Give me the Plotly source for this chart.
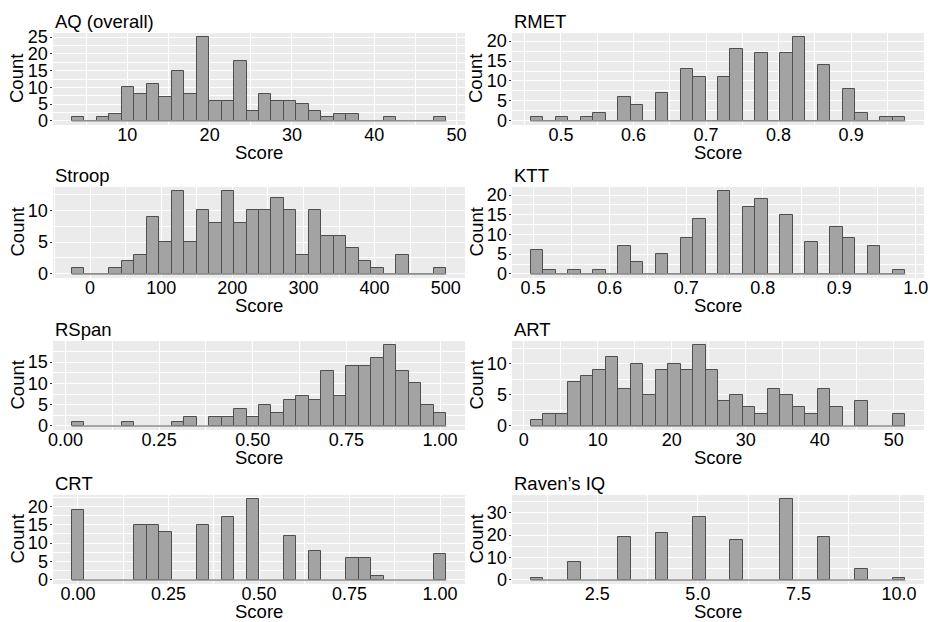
import numpy as np
import plotly.graph_objects as go

# ---- histogram data: 30 bins per measure, first/last bin centres ----
panel_titles = ["AQ (overall)", "RMET", "Stroop", "KTT",
                "RSpan", "ART", "CRT", "Raven’s IQ"]

aq_counts = [1, 0, 1, 2, 10, 8, 11, 7, 15, 8, 25, 6, 6, 18, 3,
             8, 6, 6, 5, 3, 1, 2, 2, 0, 0, 1, 0, 0, 0, 1]
aq_range = (4.0, 48.0)

rmet_counts = [1, 0, 1, 0, 1, 2, 0, 6, 4, 0, 7, 0, 13, 11, 0,
               11, 18, 0, 17, 0, 17, 21, 0, 14, 0, 8, 2, 0, 1, 1]
rmet_range = (0.467, 0.966)

stroop_counts = [1, 0, 0, 1, 2, 3, 9, 5, 13, 5, 10, 8, 13, 8, 10,
                 10, 12, 10, 3, 10, 6, 6, 4, 2, 1, 0, 3, 0, 0, 1]
stroop_range = (-17.0, 492.0)

ktt_counts = [6, 1, 0, 1, 0, 1, 0, 7, 3, 0, 5, 0, 9, 14, 0,
              21, 0, 17, 19, 0, 15, 0, 8, 0, 12, 9, 0, 7, 0, 1]
ktt_range = (0.505, 0.978)

rspan_counts = [1, 0, 0, 0, 1, 0, 0, 0, 1, 2, 0, 2, 2, 4, 2,
                5, 3, 6, 7, 6, 13, 7, 14, 14, 16, 19, 13, 10, 5, 3]
rspan_range = (1 / 30, 1.0)

art_counts = [1, 2, 2, 7, 8, 9, 11, 6, 10, 5, 9, 10, 9, 13, 9,
              4, 5, 3, 2, 6, 5, 3, 2, 6, 3, 0, 4, 0, 0, 2]
art_range = (1.8, 50.7)

crt_counts = [19, 0, 0, 0, 0, 15, 15, 13, 0, 0, 15, 0, 17, 0, 22,
              0, 0, 12, 0, 8, 0, 0, 6, 6, 1, 0, 0, 0, 0, 7]
crt_range = (0.0, 1.0)

raven_counts = [1, 0, 0, 8, 0, 0, 0, 19, 0, 0, 21, 0, 0, 28, 0,
                0, 18, 0, 0, 0, 36, 0, 0, 19, 0, 0, 5, 0, 0, 1]
raven_range = (1.0, 10.0)

x_label = "Score"
y_label = "Count"

# x tick spacing, tick label format, y tick spacing
x_dticks = [10, 0.1, 100, 0.1, 0.25, 10, 0.25, 2.5]
x_formats = ["d", ".1f", "d", ".1f", ".2f", "d", ".2f", ".1f"]
y_dticks = [5, 5, 5, 5, 5, 5, 5, 10]

all_counts = [aq_counts, rmet_counts, stroop_counts, ktt_counts,
              rspan_counts, art_counts, crt_counts, raven_counts]
all_ranges = [aq_range, rmet_range, stroop_range, ktt_range,
              rspan_range, art_range, crt_range, raven_range]

# ---- page geometry (pixels) ----
W, H = 930, 622
col_x = [(53, 465), (512, 924)]
row_y = [(33, 125), (187, 278), (341, 430), (495, 584)]

FONT = "Liberation Sans, Arial, sans-serif"
TICK_SIZE = 18
TEXT_SIZE = 18.5
BAR_FILL = "#a3a3a3"
BAR_EDGE = "#4f4f4f"
PANEL_BG = "#ebebeb"

fig = go.Figure()
annotations = []
layout_axes = {}

for i, (title, counts, (lo, hi)) in enumerate(zip(panel_titles, all_counts, all_ranges)):
    r, c = divmod(i, 2)
    counts = np.asarray(counts, dtype=float)
    nbins = len(counts)
    w = (hi - lo) / (nbins - 1)
    centers = lo + w * np.arange(nbins)

    # 5% expansion around the binned extent
    span = nbins * w
    x_min = lo - w / 2 - 0.05 * span
    x_max = hi + w / 2 + 0.05 * span
    ymax = counts.max()
    y_min, y_max = -0.05 * ymax, 1.05 * ymax

    xa = "x" if i == 0 else f"x{i + 1}"
    ya = "y" if i == 0 else f"y{i + 1}"
    xkey = "xaxis" if i == 0 else f"xaxis{i + 1}"
    ykey = "yaxis" if i == 0 else f"yaxis{i + 1}"

    # outline of the empty bins along the baseline
    fig.add_trace(go.Scatter(
        x=[lo - w / 2, hi + w / 2], y=[0, 0], mode="lines",
        line=dict(color="#8c8c8c", width=1.6),
        xaxis=xa, yaxis=ya, showlegend=False, hoverinfo="skip"))

    nz = counts > 0
    fig.add_trace(go.Bar(
        x=centers[nz], y=counts[nz], width=w,
        marker=dict(color=BAR_FILL, line=dict(color=BAR_EDGE, width=1)),
        xaxis=xa, yaxis=ya, showlegend=False))

    x0, x1 = col_x[c]
    y0, y1 = row_y[r]
    xdom = [x0 / W, x1 / W]
    ydom = [1 - y1 / H, 1 - y0 / H]

    layout_axes[xkey] = dict(
        domain=xdom, anchor=ya, range=[x_min, x_max],
        tick0=0, dtick=x_dticks[i], tickformat=x_formats[i],
        showgrid=True, gridcolor="white", gridwidth=1.1,
        minor=dict(tick0=0, dtick=x_dticks[i] / 2, showgrid=True,
                   gridcolor="white", gridwidth=0.5),
        zeroline=False, showline=False,
        ticks="outside", ticklen=2.5, tickwidth=1,
        tickcolor="rgba(0,0,0,0)",
        ticklabelstandoff=-9,
        tickfont=dict(family=FONT, size=TICK_SIZE, color="black"),
        automargin=False, fixedrange=True)
    layout_axes[ykey] = dict(
        domain=ydom, anchor=xa, range=[y_min, y_max],
        tick0=0, dtick=y_dticks[i],
        showgrid=True, gridcolor="white", gridwidth=1.1,
        minor=dict(tick0=0, dtick=y_dticks[i] / 2, showgrid=True,
                   gridcolor="white", gridwidth=0.5),
        zeroline=False, showline=False,
        ticks="outside", ticklen=2.5, tickwidth=1, tickcolor="#333333",
        ticklabelstandoff=-2,
        tickfont=dict(family=FONT, size=TICK_SIZE, color="black"),
        automargin=False, fixedrange=True)

    # panel background
    fig.add_shape(type="rect", xref="paper", yref="paper",
                  x0=xdom[0], x1=xdom[1], y0=ydom[0], y1=ydom[1],
                  fillcolor=PANEL_BG, line=dict(width=0), layer="below")

    # panel title
    annotations.append(dict(
        text=title, xref="paper", yref="paper",
        x=xdom[0], y=ydom[1], xanchor="left", yanchor="bottom",
        yshift=-1, showarrow=False,
        font=dict(family=FONT, size=TEXT_SIZE, color="black")))
    # x axis title
    annotations.append(dict(
        text=x_label, xref="paper", yref="paper",
        x=(xdom[0] + xdom[1]) / 2, y=1 - (y1 + 27) / H,
        xanchor="center", yanchor="middle", showarrow=False,
        font=dict(family=FONT, size=TEXT_SIZE, color="black")))
    # y axis title
    annotations.append(dict(
        text=y_label, xref="paper", yref="paper", textangle=-90,
        x=(x0 - 36) / W, y=(ydom[0] + ydom[1]) / 2,
        xanchor="center", yanchor="middle", showarrow=False,
        font=dict(family=FONT, size=TEXT_SIZE, color="black")))

fig.update_layout(
    width=W, height=H,
    margin=dict(l=0, r=0, t=0, b=0),
    paper_bgcolor="white", plot_bgcolor="rgba(0,0,0,0)",
    bargap=0, annotations=annotations,
    font=dict(family=FONT, color="black"),
    **layout_axes)

fig.write_html("out.html")
